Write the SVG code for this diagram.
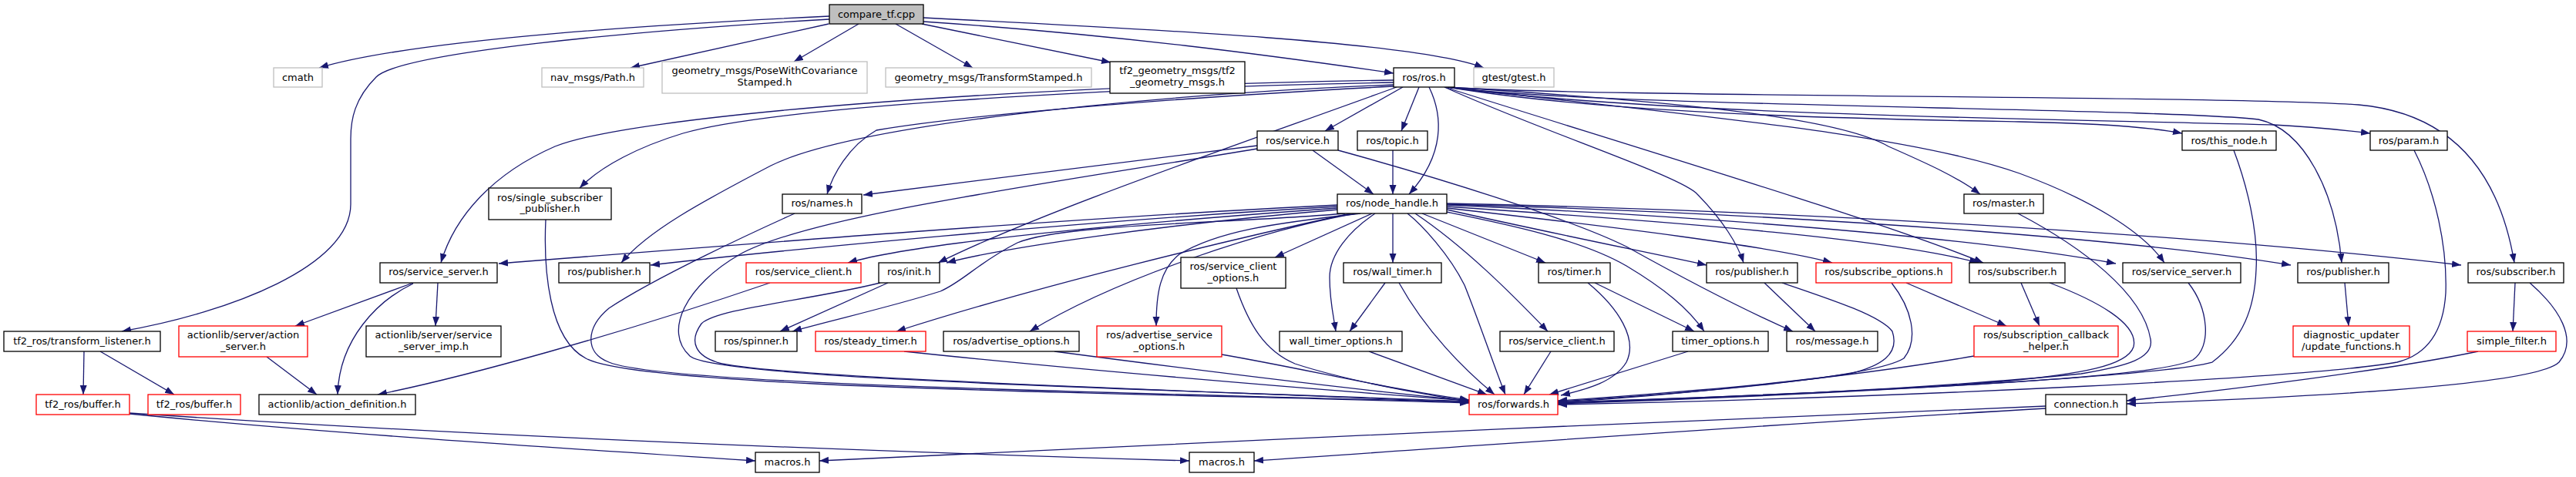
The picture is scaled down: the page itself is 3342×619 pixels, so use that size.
<svg xmlns="http://www.w3.org/2000/svg" width="3342" height="619" viewBox="0 0 3342 619">
<defs>
<style>
.nd rect{fill:#ffffff;stroke:#000000;stroke-width:1.3}
.gy rect{stroke:#bfbfbf}
.rd rect{stroke:#ff0000}
.rt rect{fill:#bfbfbf}
text{font-family:"DejaVu Sans","Liberation Sans",sans-serif;font-size:13px;text-anchor:middle;fill:#000000}
.e path{fill:none;stroke:#191970;stroke-width:1.3;marker-end:url(#a)}
</style>
<marker id="a" markerUnits="userSpaceOnUse" markerWidth="13" markerHeight="10" refX="12" refY="4.5" orient="auto"><path d="M0,0 L12,4.5 L0,9 z" fill="#191970"/></marker>
</defs>
<rect x="0" y="0" width="3342" height="619" fill="#ffffff"/>
<g id="edges" class="e">
<path d="M1076,21 C 880,30 540,50 414,88"/>
<path d="M1076,25 C 820,40 520,68 488,100 C 460,128 455,155 455,180 L 455,265 C 455,345 300,405 158,430"/>
<path d="M1075,31 L 818,88"/>
<path d="M1114,31 L 1030,80"/>
<path d="M1162,31 L 1262,88"/>
<path d="M1196,31 L 1441,81"/>
<path d="M1198,28 C 1450,45 1650,72 1808,95"/>
<path d="M1198,23 C 1500,38 1840,55 1925,88"/>
<path d="M1808,104 C 1300,112 820,150 720,190 C 640,225 590,280 572,341"/>
<path d="M1808,107 C 1400,115 1000,140 886,173 C 830,190 780,215 752,244"/>
<path d="M1808,110 C 1450,125 1100,165 1000,215 C 910,262 840,300 806,341"/>
<path d="M1808,112 C 1500,128 1250,150 1137,169 C 1100,190 1080,228 1073,252"/>
<path d="M1812,113 C 1600,190 1350,275 1217,341"/>
<path d="M1820,113 L 1719,170"/>
<path d="M1841,113 L 1818,170"/>
<path d="M1854,113 C 1872,150 1875,200 1828,252"/>
<path d="M1878,113 C 2150,130 2380,150 2450,190 C 2500,212 2540,230 2569,252"/>
<path d="M1878,113 C 2100,150 2450,155 2620,158 C 2720,160 2790,165 2831,173"/>
<path d="M1878,113 C 2150,150 2700,155 2950,162 C 3010,165 3050,170 3075,173"/>
<path d="M1878,113 C 2200,150 2480,175 2620,225 C 2710,258 2780,300 2808,341"/>
<path d="M1874,113 C 2000,170 2170,225 2200,250 C 2235,285 2255,318 2262,341"/>
<path d="M1874,113 C 2150,200 2450,290 2573,341"/>
<path d="M1878,113 C 2050,138 2800,140 2930,155 C 2990,168 3030,250 3038,341"/>
<path d="M1878,113 C 2050,126 2900,124 3060,136 C 3170,146 3240,210 3262,341"/>
<path d="M1631,189 L 1120,253"/>
<path d="M1703,195 L 1782,252"/>
<path d="M1631,193 C 1350,240 1050,280 960,330 C 890,370 860,430 895,462 C 930,492 1500,505 1906,521"/>
<path d="M1736,195 C 1900,240 2050,290 2110,320 C 2200,370 2280,410 2326,430"/>
<path d="M1807,195 L 1807,252"/>
<path d="M708,285 C 705,350 712,440 760,465 C 830,505 1500,510 1906,523"/>
<path d="M1031,277 C 980,300 850,360 790,400 C 760,425 758,458 790,470 C 860,500 1500,510 1906,522"/>
<path d="M1152,367 L 1012,430"/>
<path d="M1142,367 C 1050,390 930,400 910,420 C 892,445 905,462 930,470 C 1000,490 1500,505 1906,522"/>
<path d="M1735,266 C 1400,282 900,322 647,342"/>
<path d="M1735,268 C 1400,287 1000,326 844,344"/>
<path d="M1735,270 C 1500,287 1200,312 1100,341"/>
<path d="M1736,272 C 1500,292 1300,322 1228,341"/>
<path d="M1745,277 C 1600,290 1380,290 1320,315 C 1270,340 1250,365 1220,378 C 1150,400 1080,415 1028,430"/>
<path d="M1752,277 C 1600,310 1350,370 1163,430"/>
<path d="M1760,277 C 1650,295 1450,360 1336,430"/>
<path d="M1765,277 C 1650,290 1580,300 1530,330 C 1505,350 1500,380 1500,423"/>
<path d="M1780,277 L 1654,334"/>
<path d="M1784,277 C 1750,300 1725,330 1725,360 C 1725,390 1730,410 1733,430"/>
<path d="M1807,277 L 1807,341"/>
<path d="M1826,277 C 1845,292 1880,330 1900,370 C 1920,420 1940,480 1953,512"/>
<path d="M1836,277 C 1900,320 1960,380 2008,430"/>
<path d="M1845,277 L 2005,341"/>
<path d="M1877,275 C 1950,290 2050,310 2110,345 C 2160,375 2190,400 2211,430"/>
<path d="M1877,272 C 2000,300 2150,330 2214,344"/>
<path d="M1877,270 C 2100,295 2300,320 2377,341"/>
<path d="M1877,268 C 2200,290 2450,310 2567,341"/>
<path d="M1877,266 C 2300,285 2600,315 2745,342"/>
<path d="M1877,265 C 2400,280 2800,315 2972,344"/>
<path d="M1877,264 C 2400,275 2900,310 3193,344"/>
<path d="M1797,367 L 1751,430"/>
<path d="M1815,367 C 1850,430 1900,480 1939,512"/>
<path d="M1776,456 L 1929,512"/>
<path d="M2012,456 L 1977,512"/>
<path d="M2060,367 C 2100,400 2125,440 2110,470 C 2095,495 2060,505 2025,513"/>
<path d="M2069,367 L 2198,430"/>
<path d="M2190,456 L 2010,512"/>
<path d="M2289,367 L 2355,430"/>
<path d="M2312,367 C 2380,390 2440,410 2455,430 C 2465,460 2440,475 2400,485 C 2300,500 2100,515 2021,520"/>
<path d="M2473,367 L 2603,423"/>
<path d="M2454,367 C 2480,400 2490,440 2470,465 C 2430,490 2200,510 2021,521"/>
<path d="M2622,367 L 2646,423"/>
<path d="M2659,367 C 2720,390 2775,420 2768,450 C 2760,475 2700,485 2600,495 C 2400,510 2150,518 2021,522"/>
<path d="M2561,462 C 2400,490 2150,515 2021,522"/>
<path d="M2839,367 C 2865,400 2870,450 2845,467 C 2800,490 2500,505 2021,523"/>
<path d="M2618,277 C 2700,320 2780,380 2790,440 C 2795,465 2760,475 2700,485 C 2500,505 2200,518 2021,523"/>
<path d="M2898,195 C 2915,240 2930,300 2927,350 C 2925,400 2910,440 2870,470 C 2800,490 2300,515 2021,524"/>
<path d="M3132,195 C 3160,250 3175,320 3173,380 C 3170,430 3150,460 3110,470 C 3000,490 2500,515 2021,525"/>
<path d="M3042,367 L 3047,423"/>
<path d="M3263,367 L 3260,430"/>
<path d="M3282,367 C 3320,400 3345,440 3320,470 C 3290,500 3000,515 2759,524"/>
<path d="M3215,456 C 3100,480 2900,505 2759,520"/>
<path d="M2654,527 C 2200,545 1400,580 1063,598"/>
<path d="M2654,530 C 2300,550 1900,580 1627,598"/>
<path d="M109,456 L 108,512"/>
<path d="M130,456 L 226,512"/>
<path d="M168,537 C 400,560 700,580 980,598"/>
<path d="M168,536 C 600,565 1100,585 1543,598"/>
<path d="M536,367 L 383,423"/>
<path d="M536,368 C 490,390 440,440 438,512"/>
<path d="M568,367 L 565,423"/>
<path d="M346,463 L 411,512"/>
<path d="M999,367 C 800,435 600,490 490,512"/>
<path d="M1604,374 C 1620,420 1640,455 1680,472 C 1750,495 1850,512 1906,521"/>
<path d="M1173,456 C 1400,480 1700,505 1906,520"/>
<path d="M1368,456 C 1550,480 1750,505 1906,520"/>
<path d="M1585,460 C 1700,480 1800,505 1906,519"/>
</g>
<g id="n1" class="nd rt"><rect x="1076" y="6" width="122" height="25"/><text x="1137" y="23">compare_tf.cpp</text></g>
<g id="n2" class="nd gy"><rect x="355" y="88" width="63" height="25"/><text x="386.5" y="105">cmath</text></g>
<g id="n3" class="nd gy"><rect x="703" y="88" width="132" height="25"/><text x="769" y="105">nav_msgs/Path.h</text></g>
<g id="n4" class="nd gy"><rect x="859" y="80" width="266" height="41"/><text x="992" y="96">geometry_msgs/PoseWithCovariance</text><text x="992" y="111">Stamped.h</text></g>
<g id="n5" class="nd gy"><rect x="1149" y="88" width="267" height="25"/><text x="1282.5" y="105">geometry_msgs/TransformStamped.h</text></g>
<g id="n6" class="nd"><rect x="1440" y="80" width="175" height="41"/><text x="1527.5" y="96">tf2_geometry_msgs/tf2</text><text x="1527.5" y="111">_geometry_msgs.h</text></g>
<g id="n7" class="nd"><rect x="1808" y="88" width="79" height="25"/><text x="1847.5" y="105">ros/ros.h</text></g>
<g id="n8" class="nd gy"><rect x="1912" y="88" width="104" height="25"/><text x="1964" y="105">gtest/gtest.h</text></g>
<g id="n9" class="nd"><rect x="5" y="430" width="203" height="26"/><text x="106.5" y="447">tf2_ros/transform_listener.h</text></g>
<g id="n10" class="nd"><rect x="1631" y="170" width="105" height="25"/><text x="1683.5" y="187">ros/service.h</text></g>
<g id="n11" class="nd"><rect x="1761" y="170" width="91" height="25"/><text x="1806.5" y="187">ros/topic.h</text></g>
<g id="n12" class="nd"><rect x="2831" y="170" width="122" height="25"/><text x="2892" y="187">ros/this_node.h</text></g>
<g id="n13" class="nd"><rect x="3075" y="170" width="100" height="25"/><text x="3125" y="187">ros/param.h</text></g>
<g id="n14" class="nd"><rect x="634" y="244" width="159" height="41"/><text x="713.5" y="261">ros/single_subscriber</text><text x="713.5" y="275">_publisher.h</text></g>
<g id="n15" class="nd"><rect x="1015" y="252" width="103" height="25"/><text x="1066.5" y="268">ros/names.h</text></g>
<g id="n16" class="nd"><rect x="1735" y="252" width="142" height="25"/><text x="1806" y="268">ros/node_handle.h</text></g>
<g id="n17" class="nd"><rect x="2548" y="252" width="103" height="25"/><text x="2599.5" y="268">ros/master.h</text></g>
<g id="n18" class="nd"><rect x="493" y="341" width="152" height="26"/><text x="569" y="357">ros/service_server.h</text></g>
<g id="n19" class="nd"><rect x="725" y="341" width="118" height="26"/><text x="784" y="357">ros/publisher.h</text></g>
<g id="n20" class="nd rd"><rect x="968" y="341" width="149" height="26"/><text x="1042.5" y="357">ros/service_client.h</text></g>
<g id="n21" class="nd"><rect x="1140" y="341" width="79" height="26"/><text x="1179.5" y="357">ros/init.h</text></g>
<g id="n22" class="nd"><rect x="1532" y="334" width="136" height="40"/><text x="1600" y="350">ros/service_client</text><text x="1600" y="365">_options.h</text></g>
<g id="n23" class="nd"><rect x="1743" y="341" width="127" height="26"/><text x="1806.5" y="357">ros/wall_timer.h</text></g>
<g id="n24" class="nd"><rect x="1996" y="341" width="93" height="26"/><text x="2042.5" y="357">ros/timer.h</text></g>
<g id="n25" class="nd"><rect x="2214" y="341" width="118" height="26"/><text x="2273" y="357">ros/publisher.h</text></g>
<g id="n26" class="nd rd"><rect x="2356" y="341" width="176" height="26"/><text x="2444" y="357">ros/subscribe_options.h</text></g>
<g id="n27" class="nd"><rect x="2555" y="341" width="124" height="26"/><text x="2617" y="357">ros/subscriber.h</text></g>
<g id="n28" class="nd"><rect x="2754" y="341" width="153" height="26"/><text x="2830.5" y="357">ros/service_server.h</text></g>
<g id="n29" class="nd"><rect x="2981" y="341" width="118" height="26"/><text x="3040" y="357">ros/publisher.h</text></g>
<g id="n30" class="nd"><rect x="3202" y="341" width="124" height="26"/><text x="3264" y="357">ros/subscriber.h</text></g>
<g id="n31" class="nd rd"><rect x="232" y="423" width="167" height="40"/><text x="315.5" y="439">actionlib/server/action</text><text x="315.5" y="454">_server.h</text></g>
<g id="n32" class="nd"><rect x="475" y="423" width="175" height="40"/><text x="562.5" y="439">actionlib/server/service</text><text x="562.5" y="454">_server_imp.h</text></g>
<g id="n33" class="nd"><rect x="928" y="430" width="106" height="26"/><text x="981" y="447">ros/spinner.h</text></g>
<g id="n34" class="nd rd"><rect x="1058" y="430" width="143" height="26"/><text x="1129.5" y="447">ros/steady_timer.h</text></g>
<g id="n35" class="nd"><rect x="1224" y="430" width="176" height="26"/><text x="1312" y="447">ros/advertise_options.h</text></g>
<g id="n36" class="nd rd"><rect x="1423" y="423" width="162" height="40"/><text x="1504" y="439">ros/advertise_service</text><text x="1504" y="454">_options.h</text></g>
<g id="n37" class="nd"><rect x="1660" y="430" width="159" height="26"/><text x="1739.5" y="447">wall_timer_options.h</text></g>
<g id="n38" class="nd"><rect x="1946" y="430" width="148" height="26"/><text x="2020" y="447">ros/service_client.h</text></g>
<g id="n39" class="nd"><rect x="2170" y="430" width="124" height="26"/><text x="2232" y="447">timer_options.h</text></g>
<g id="n40" class="nd"><rect x="2318" y="430" width="118" height="26"/><text x="2377" y="447">ros/message.h</text></g>
<g id="n41" class="nd rd"><rect x="2561" y="423" width="187" height="40"/><text x="2654.5" y="439">ros/subscription_callback</text><text x="2654.5" y="454">_helper.h</text></g>
<g id="n42" class="nd rd"><rect x="2975" y="423" width="151" height="40"/><text x="3050.5" y="439">diagnostic_updater</text><text x="3050.5" y="454">/update_functions.h</text></g>
<g id="n43" class="nd rd"><rect x="3201" y="430" width="115" height="26"/><text x="3258.5" y="447">simple_filter.h</text></g>
<g id="n44" class="nd rd"><rect x="47" y="512" width="121" height="26"/><text x="107.5" y="529">tf2_ros/buffer.h</text></g>
<g id="n45" class="nd rd"><rect x="192" y="512" width="120" height="26"/><text x="252" y="529">tf2_ros/buffer.h</text></g>
<g id="n46" class="nd"><rect x="336" y="512" width="203" height="26"/><text x="437.5" y="529">actionlib/action_definition.h</text></g>
<g id="n47" class="nd rd"><rect x="1906" y="512" width="115" height="26"/><text x="1963.5" y="529">ros/forwards.h</text></g>
<g id="n48" class="nd"><rect x="2654" y="512" width="105" height="26"/><text x="2706.5" y="529">connection.h</text></g>
<g id="n49" class="nd"><rect x="980" y="587" width="83" height="26"/><text x="1021.5" y="604">macros.h</text></g>
<g id="n50" class="nd"><rect x="1543" y="587" width="84" height="26"/><text x="1585" y="604">macros.h</text></g>
</svg>
